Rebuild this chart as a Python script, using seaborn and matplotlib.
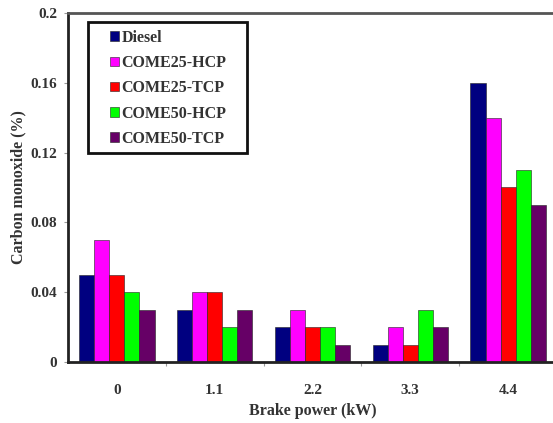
import numpy as np
import pandas as pd
import seaborn as sns
import matplotlib.pyplot as plt
from matplotlib.patches import Rectangle
from matplotlib.ticker import FixedLocator

# data
powers = ['0', '1.1', '2.2', '3.3', '4.4']
fuels = ['Diesel', 'COME25-HCP', 'COME25-TCP', 'COME50-HCP', 'COME50-TCP']
diesel = [0.05, 0.03, 0.02, 0.01, 0.16]
come25_hcp = [0.07, 0.04, 0.03, 0.02, 0.14]
come25_tcp = [0.05, 0.04, 0.02, 0.01, 0.10]
come50_hcp = [0.04, 0.02, 0.02, 0.03, 0.11]
come50_tcp = [0.03, 0.03, 0.01, 0.02, 0.09]
colors = ['#000080', '#FF00FF', '#FF0000', '#00FF00', '#660066']

series = [diesel, come25_hcp, come25_tcp, come50_hcp, come50_tcp]
df = pd.DataFrame({
    'power': np.tile(powers, len(fuels)),
    'fuel': np.repeat(fuels, len(powers)),
    'co': np.concatenate(series),
})

sns.set_style('white')
plt.rcParams['font.family'] = ['Liberation Serif', 'DejaVu Serif']
plt.rcParams['font.weight'] = 'bold'

fig = plt.figure(figsize=(5.53, 4.23), dpi=100)
# axes runs a bit past the right edge, as in the cropped original
ax = fig.add_axes([68 / 553, 61 / 423, 489 / 553, 349 / 423])

sns.barplot(data=df, x='power', y='co', hue='fuel', order=powers, hue_order=fuels,
            palette=colors, width=0.77, saturation=1, edgecolor='#222222',
            linewidth=0.4, ax=ax)

ax.set_xlim(-0.5, 4.5)
ax.set_ylim(0, 0.2)
ax.set_yticks([0, 0.04, 0.08, 0.12, 0.16, 0.2])
ax.set_yticklabels(['0', '0.04', '0.08', '0.12', '0.16', '0.2'])
ax.xaxis.set_minor_locator(FixedLocator([0.5, 1.5, 2.5, 3.5]))
ax.tick_params(axis='x', which='major', length=0, pad=16, labelsize=11)
ax.tick_params(axis='x', which='minor', length=3, width=0.8, color='#999999', direction='out', bottom=True)
ax.tick_params(axis='y', length=3, width=0.8, color='#999999', direction='out', left=True, labelsize=11, pad=5)
for lab in ax.get_xticklabels() + ax.get_yticklabels():
    lab.set_fontweight('bold')
    lab.set_color('#333333')

ax.set_xlabel('Brake power (kW)', fontsize=11.5, fontweight='bold', color='#333333', labelpad=4)
ax.set_ylabel('Carbon monoxide (%)', fontsize=11.5, fontweight='bold', color='#333333', labelpad=3)

for side in ['top', 'left', 'bottom']:
    ax.spines[side].set_linewidth(2)
    ax.spines[side].set_color('#222222')
ax.spines['top'].set_color('#555555')
ax.spines['right'].set_visible(False)

# legend box is wider than its entries, so draw the frame separately
ax.add_patch(Rectangle((0.041, 0.599), 0.325, 0.375, transform=ax.transAxes,
                       facecolor='white', edgecolor='#111111', linewidth=2, zorder=4))
leg = ax.legend(loc='upper left', bbox_to_anchor=(0.086, 0.952), frameon=False,
                handlelength=0.55, handleheight=0.55, handletextpad=0.15, labelspacing=0.58,
                borderpad=0, borderaxespad=0, prop={'size': 11.5, 'weight': 'bold'})
leg.set_zorder(5)
for t in leg.get_texts():
    t.set_color('#333333')

fig.savefig('out.png', dpi=100)
